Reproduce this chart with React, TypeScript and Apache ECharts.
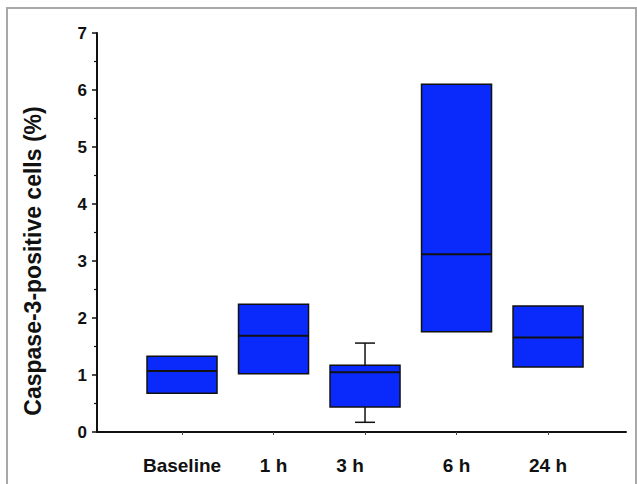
import React, { useEffect, useRef } from "react";
import * as echarts from "echarts";

const categories = ["Baseline", "1 h", "3 h", "6 h", "24 h"];
const positions = [1, 2, 3, 4, 5];
const whiskerLow = [0.68, 1.02, 0.17, 1.76, 1.14];
const q1 = [0.68, 1.02, 0.44, 1.76, 1.14];
const median = [1.07, 1.69, 1.05, 3.12, 1.66];
const q3 = [1.33, 2.24, 1.17, 6.1, 2.21];
const whiskerHigh = [1.33, 2.24, 1.56, 6.1, 2.21];
const yTicks = [0, 1, 2, 3, 4, 5, 6, 7];

const FONT = "'Liberation Sans', Arial, sans-serif";

export default function App() {
  const ref = useRef<HTMLDivElement>(null);
  useEffect(() => {
    if (!ref.current) return;
    const chart = echarts.init(ref.current, null, { renderer: "svg" });
    const data = positions.map((p, i) => [p, whiskerLow[i], q1[i], median[i], q3[i], whiskerHigh[i]]);
    chart.setOption({
      animation: false,
      backgroundColor: "#ffffff",
      grid: { left: 97, top: 33, width: 529, height: 399, containLabel: false },
      xAxis: {
        type: "value",
        min: 0.071,
        max: 5.852,
        splitLine: { show: false },
        axisLine: { show: true, onZero: false, lineStyle: { color: "#111", width: 2 } },
        axisTick: { show: true, customValues: positions, length: 3, lineStyle: { color: "#444", width: 1 } },
        axisLabel: {
          show: true,
          customValues: positions,
          margin: 24,
          fontFamily: FONT,
          fontWeight: "bold",
          fontSize: 19,
          color: "#111",
          formatter: (v: number) => {
            const i = Math.round(v) - 1;
            const name = categories[i] ?? "";
            return i === 2 ? `{s|${name}}` : name;
          },
          rich: {
            s: { padding: [0, 30, 0, 0], fontFamily: FONT, fontWeight: "bold", fontSize: 19, color: "#111" },
          },
        },
      },
      yAxis: {
        type: "value",
        min: 0,
        max: 7,
        interval: 1,
        splitLine: { show: false },
        axisLine: { show: true, lineStyle: { color: "#111", width: 2 } },
        axisTick: { show: true, length: 5, lineStyle: { color: "#111", width: 1.5 } },
        minorTick: { show: true, splitNumber: 2, length: 3, lineStyle: { color: "#111", width: 1.2 } },
        axisLabel: {
          margin: 10,
          fontFamily: FONT,
          fontWeight: "bold",
          fontSize: 17,
          color: "#111",
          formatter: (v: number) => (yTicks.includes(v) ? String(v) : ""),
        },
      },
      graphic: [
        {
          type: "rect",
          shape: { x: 7, y: 8, width: 629, height: 500 },
          style: { fill: "none", stroke: "#a8a8a8", lineWidth: 2 },
          silent: true,
          z: -1,
        },
        {
          type: "text",
          x: 33,
          y: 261,
          rotation: Math.PI / 2,
          style: {
            text: "Caspase-3-positive cells (%)",
            fontFamily: FONT,
            fontWeight: "bold",
            fontSize: 23,
            fill: "#111",
            align: "center",
            verticalAlign: "middle",
          },
        },
      ],
      series: [
        {
          type: "custom",
          data,
          encode: { x: 0, y: [1, 2, 3, 4, 5] },
          renderItem: (params: any, api: any) => {
            const x = api.value(0);
            const lo = api.value(1);
            const b1 = api.value(2);
            const md = api.value(3);
            const b3 = api.value(4);
            const hi = api.value(5);
            const pLo = api.coord([x, lo]);
            const p1 = api.coord([x, b1]);
            const pm = api.coord([x, md]);
            const p3 = api.coord([x, b3]);
            const pHi = api.coord([x, hi]);
            const bw = api.size([1, 0])[0] * 0.765;
            const cap = 20;
            const cx = pm[0];
            const children: any[] = [];
            if (hi > b3) {
              children.push({
                type: "line",
                shape: { x1: cx, y1: p3[1], x2: cx, y2: pHi[1] },
                style: { stroke: "#111", lineWidth: 1.5 },
              });
              children.push({
                type: "line",
                shape: { x1: cx - cap / 2, y1: pHi[1], x2: cx + cap / 2, y2: pHi[1] },
                style: { stroke: "#111", lineWidth: 1.5 },
              });
            }
            if (lo < b1) {
              children.push({
                type: "line",
                shape: { x1: cx, y1: p1[1], x2: cx, y2: pLo[1] },
                style: { stroke: "#111", lineWidth: 1.5 },
              });
              children.push({
                type: "line",
                shape: { x1: cx - cap / 2, y1: pLo[1], x2: cx + cap / 2, y2: pLo[1] },
                style: { stroke: "#111", lineWidth: 1.5 },
              });
            }
            children.push({
              type: "rect",
              shape: { x: cx - bw / 2, y: p3[1], width: bw, height: p1[1] - p3[1] },
              style: { fill: "#0a2afc", stroke: "#111", lineWidth: 1.5 },
            });
            children.push({
              type: "line",
              shape: { x1: cx - bw / 2, y1: pm[1], x2: cx + bw / 2, y2: pm[1] },
              style: { stroke: "#111", lineWidth: 2 },
            });
            return { type: "group", children };
          },
        },
      ],
    });
    return () => chart.dispose();
  }, []);
  return (
    <div
      ref={ref}
      style={{ position: "fixed", left: 0, top: 0, width: 637, height: 484, background: "#fff" }}
    />
  );
}
